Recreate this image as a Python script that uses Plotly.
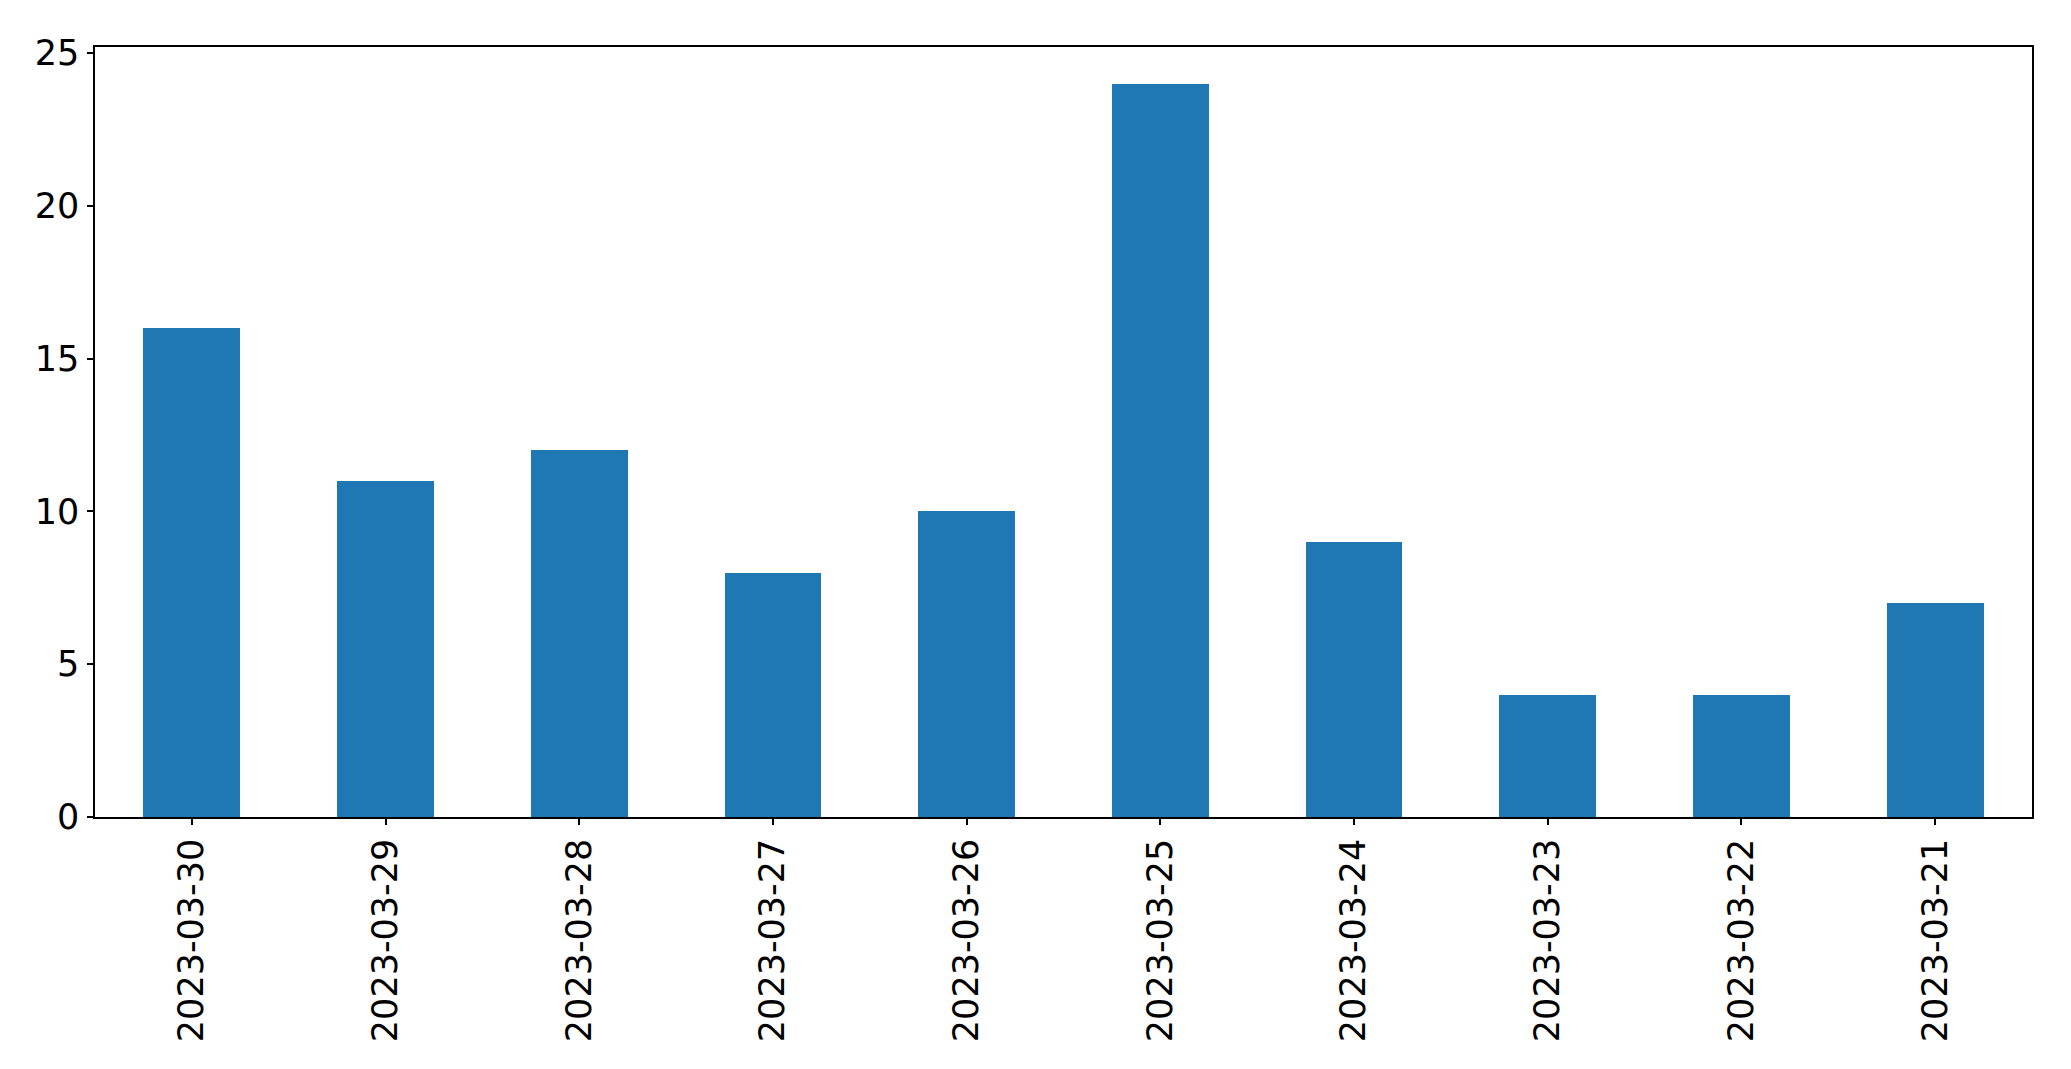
import plotly.graph_objects as go

dates = ["2023-03-30", "2023-03-29", "2023-03-28", "2023-03-27", "2023-03-26",
         "2023-03-25", "2023-03-24", "2023-03-23", "2023-03-22", "2023-03-21"]
counts = [16, 11, 12, 8, 10, 24, 9, 4, 4, 7]
y_ticks = [0, 5, 10, 15, 20, 25]

fig = go.Figure(go.Bar(x=dates, y=counts, width=0.5, marker_color="#1f77b4",
                       marker_line_width=0))

font = dict(family="DejaVu Sans", size=35, color="black")
fig.update_layout(
    width=2071, height=1069,
    margin=dict(l=87, r=47, t=39, b=260, pad=0),
    plot_bgcolor="white", paper_bgcolor="white",
    showlegend=False, bargap=0,
    font=font,
)
fig.update_xaxes(type="category", range=[-0.5, 9.5], tickangle=-90, automargin=False,
                 showline=True, mirror=True, linecolor="black", linewidth=1.5,
                 ticks="outside", ticklen=6, tickwidth=1.5, tickcolor="black",
                 showgrid=False, zeroline=False, tickfont=font, ticklabelstandoff=0)
fig.update_yaxes(range=[0, 25.2], tickvals=y_ticks, automargin=False,
                 showline=True, mirror=True, linecolor="black", linewidth=1.5,
                 ticks="outside", ticklen=6, tickwidth=1.5, tickcolor="black",
                 showgrid=False, zeroline=False, tickfont=font, ticklabelstandoff=1)

fig.write_html("out.html")
